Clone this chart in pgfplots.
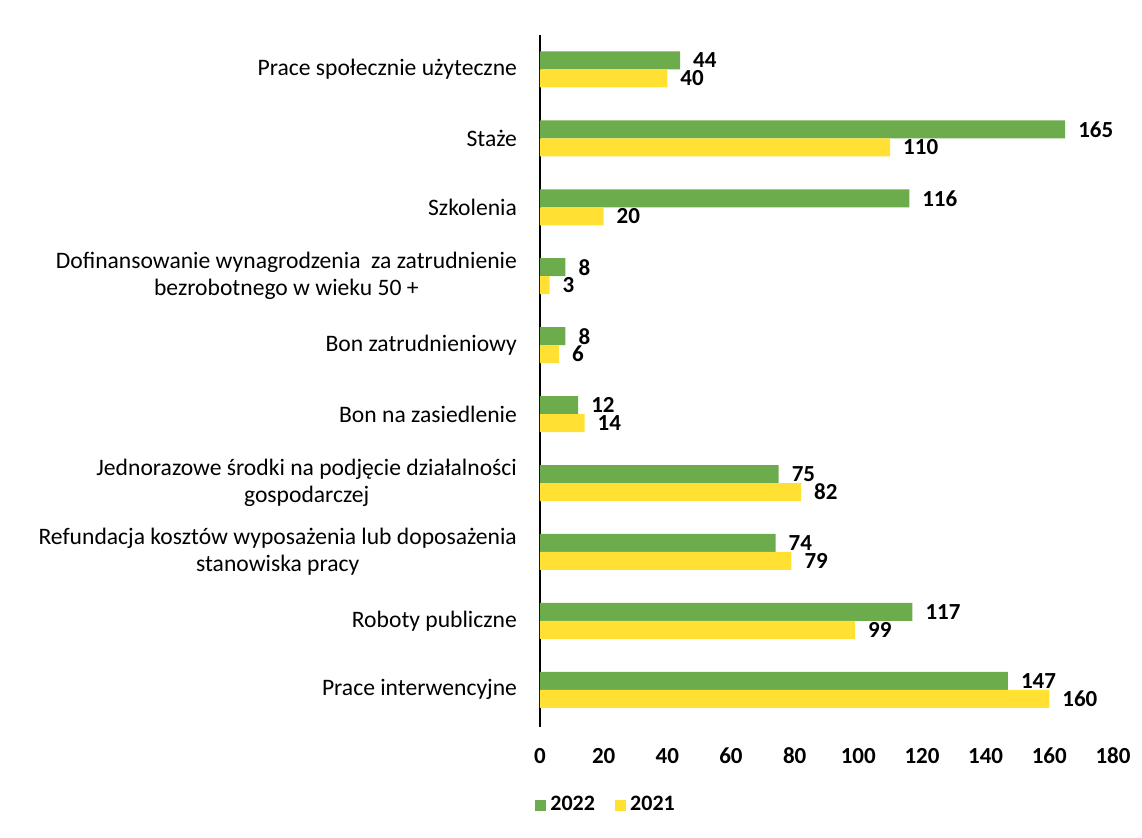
\documentclass[border=0pt]{standalone}
\usepackage{fontspec}
\setmainfont{Carlito}
\usepackage{pgfplots}
\pgfplotsset{compat=1.18}
\definecolor{g22}{HTML}{6CAC4C}
\definecolor{y21}{HTML}{FFE033}

\begin{document}
\begin{tikzpicture}
\useasboundingbox (-270pt,-55pt) rectangle (301pt,363.5pt);
\begin{axis}[
    xbar,
    at={(0,0)}, anchor=south west,
    scale only axis,
    width=286.5pt,
    height=346pt,
    xmin=0, xmax=180,
    ymin=-0.54, ymax=9.5,
    bar width=9pt,
    xtick={0,20,...,180},
    ytick={0,...,9},
    yticklabels={
        Prace interwencyjne,
        Roboty publiczne,
        {Refundacja kosztów wyposażenia lub doposażenia\\stanowiska pracy},
        {Jednorazowe środki na podjęcie działalności\\gospodarczej},
        Bon na zasiedlenie,
        Bon zatrudnieniowy,
        {Dofinansowanie wynagrodzenia\ \ za zatrudnienie\\bezrobotnego w wieku 50 +},
        Szkolenia,
        Staże,
        Prace społecznie użyteczne
    },
    separate axis lines,
    axis x line*=bottom,
    axis y line*=left,
    x axis line style={draw=none},
    y axis line style={black, line width=1.3pt},
    major tick length=0pt,
    tick label style={font=\fontsize{11.5}{13}\selectfont\bfseries},
    yticklabel style={font=\fontsize{11.8}{13.5}\selectfont, align=center, xshift=-8pt},
    xticklabel style={yshift=-7pt},
    /pgf/number format/assume math mode=true,
    nodes near coords,
    nodes near coords style={font=\fontsize{11.5}{13}\selectfont\bfseries, black, xshift=3pt},
    legend columns=-1,
    legend style={draw=none, fill=none, at={(axis description cs:0.117,-0.113)}, anchor=center,
        font=\fontsize{11}{13}\selectfont\bfseries, /tikz/every even column/.append style={column sep=8pt}},
    legend image code/.code={\fill[#1] (0pt,-2.8pt) rectangle (5.6pt,2.8pt);},
]
\addplot[fill=g22, draw=none, bar shift=4.5pt] coordinates {
    (147,0) (117,1) (74,2) (75,3) (12,4) (8,5) (8,6) (116,7) (165,8) (44,9)
};
\addplot[fill=y21, draw=none, bar shift=-4.5pt] coordinates {
    (160,0) (99,1) (79,2) (82,3) (14,4) (6,5) (3,6) (20,7) (110,8) (40,9)
};
\legend{2022, 2021}
\end{axis}
\end{tikzpicture}
\end{document}
